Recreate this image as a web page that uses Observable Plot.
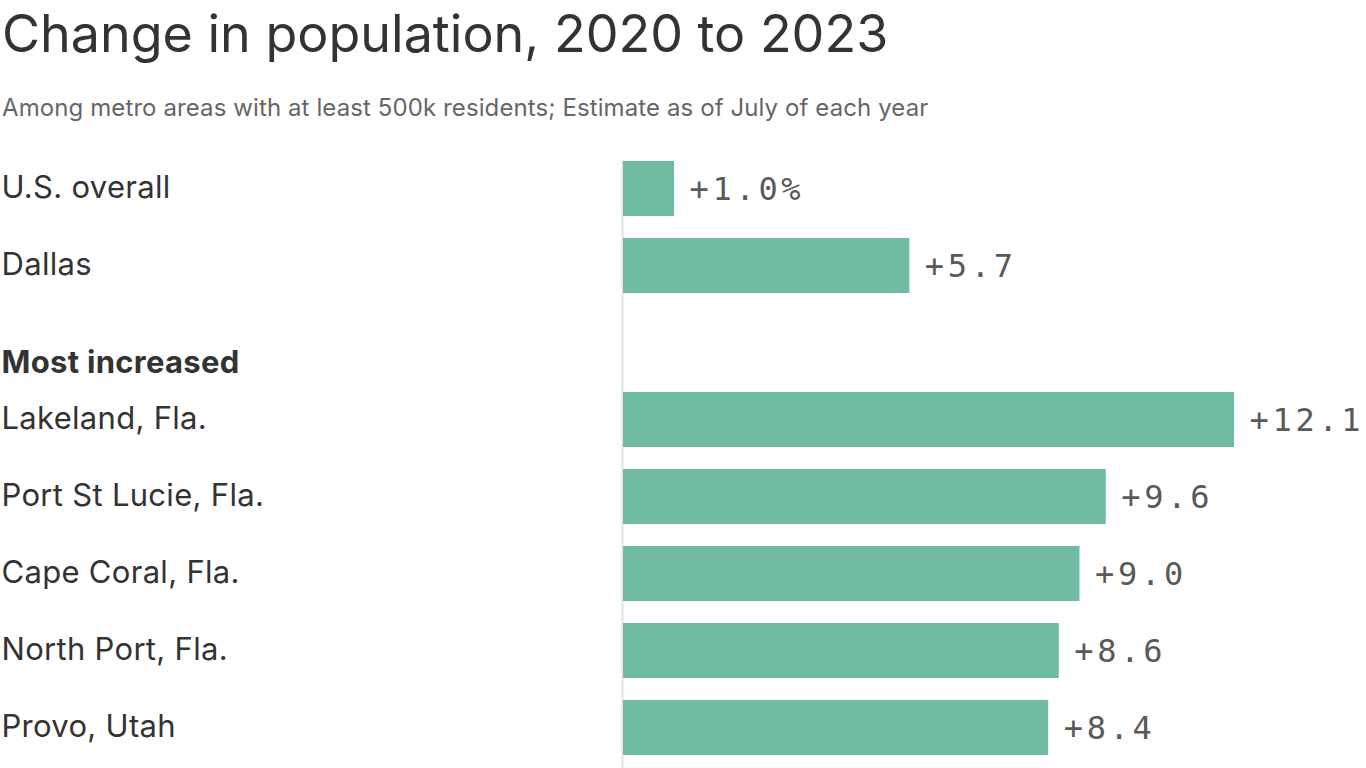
<!DOCTYPE html>
<html>
<head>
<meta charset="utf-8">
<script src="https://cdn.jsdelivr.net/npm/d3@7"></script>
<script src="https://cdn.jsdelivr.net/npm/@observablehq/plot@0.6"></script>
<style>
  html, body { margin: 0; padding: 0; background: #fff; }
  #wrap { position: relative; width: 1366px; height: 768px; overflow: hidden; }
  #head { position: relative; height: 140px; }
  #title { position: absolute; left: 2px; top: 8px; font-family: Inter, sans-serif; font-size: 52px; line-height: 52px; color: #333; white-space: nowrap; }
  #subtitle { position: absolute; left: 2px; top: 96px; font-family: Inter, sans-serif; font-size: 24px; line-height: 24px; color: #666; white-space: nowrap; letter-spacing: 0.1px; }
  g[font-family="DejaVu Sans Mono"] { letter-spacing: 3.7px; }
  g[font-family="Inter"] { letter-spacing: 0.3px; }
</style>
</head>
<body>
<div id="wrap">
  <div id="head">
    <div id="title">Change in population, 2020 to 2023</div>
    <div id="subtitle">Among metro areas with at least 500k residents; Estimate as of July of each year</div>
  </div>
  <div id="chart"></div>
</div>
<script>
const names = ["U.S. overall", "Dallas", "Lakeland, Fla.", "Port St Lucie, Fla.", "Cape Coral, Fla.", "North Port, Fla.", "Provo, Utah"];
const values = [1.01, 5.67, 12.1, 9.56, 9.04, 8.63, 8.42];
const groupLabel = "Most increased";
const rowOrder = [names[0], names[1], groupLabel, ...names.slice(2)];

const data = names.map((name, i) => ({name, value: values[i], i}));
const fmt = d => d.i === 0 ? `+${d.value.toFixed(1)}%` : `+${d.value.toFixed(1)}`;

const chart = Plot.plot({
  width: 1366,
  height: 628,
  marginLeft: 623,
  marginRight: 132,
  marginTop: 20,
  marginBottom: 0,
  style: {background: "white", overflow: "visible"},
  x: {domain: [0, 12.1], axis: null},
  y: {domain: rowOrder, range: [20, 615.1], paddingInner: 22 / 77, paddingOuter: 0, axis: null},
  marks: [
    Plot.ruleX([0], {stroke: "#e2e2e2", strokeWidth: 2, dx: -1}),
    Plot.barX(data, {x: "value", y: "name", fill: "#6fbba3"}),
    Plot.text(data, {y: "name", text: "name", frameAnchor: "left", textAnchor: "start", dx: -622, dy: -1, fontSize: 31, fill: "#333", fontFamily: "Inter"}),
    Plot.text([groupLabel], {y: d => d, text: d => d, frameAnchor: "left", textAnchor: "start", dx: -622, dy: 20, fontSize: 31, fontWeight: "bold", fill: "#333", fontFamily: "Inter"}),
    Plot.text(data, {x: "value", y: "name", text: fmt, textAnchor: "start", dx: 15, dy: 1, fontSize: 32, fill: "#595959", fontFamily: "DejaVu Sans Mono"})
  ]
});
document.getElementById("chart").appendChild(chart);
</script>
</body>
</html>
